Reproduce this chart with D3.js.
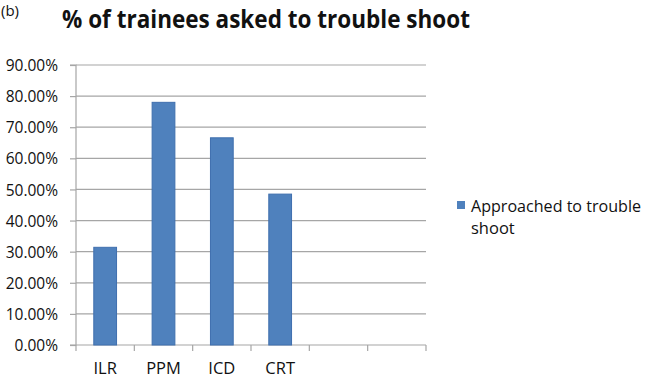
<!DOCTYPE html>
<html>
<style>
    body { margin: 0; background: #fff; }
    text { font-family: "Open Sans", "Noto Sans", sans-serif; fill: #111; }
</style>
<script src="https://d3js.org/d3.v7.min.js"></script>
<body>
<svg width="648" height="379"></svg>
<script>
    const categories = ["ILR", "PPM", "ICD", "CRT", "", " "];
    const values = [0.314, 0.780, 0.666, 0.485, null, null];
    const yTicks = [0, 0.1, 0.2, 0.3, 0.4, 0.5, 0.6, 0.7, 0.8, 0.9];
    const seriesName = "Approached to trouble shoot";

    const svg = d3.select("svg");
    const plotLeft = 76, plotRight = 426, plotTop = 65, plotBottom = 345;

    const x = d3.scaleBand().domain(categories).range([plotLeft, plotRight]).paddingInner(0.61).paddingOuter(0.305);
    const xEdge = d3.scaleBand().domain(categories).range([plotLeft, plotRight]);
    const y = d3.scaleLinear().domain([0, 0.9]).range([plotBottom, plotTop]);

    // gridlines
    svg.append("g")
        .selectAll("line")
        .data(yTicks.slice(1))
        .join("line")
        .attr("x1", plotLeft).attr("x2", plotRight)
        .attr("y1", d => y(d)).attr("y2", d => y(d))
        .attr("stroke", "#a6a6a6").attr("stroke-width", 1.2);

    // y axis
    const yAxis = svg.append("g")
        .attr("transform", `translate(${plotLeft},0)`)
        .call(d3.axisLeft(y).tickValues(yTicks).tickFormat(d3.format(".2%")).tickSize(6).tickPadding(12));
    yAxis.selectAll("line, path").attr("stroke", "#a6a6a6").attr("stroke-width", 1.2);
    yAxis.select(".domain").attr("d", `M-6,${y(0.9)}H0V${plotBottom}H-6`);
    yAxis.selectAll("text").style("font-size", "15.5px").attr("fill", "#111").attr("dy", "0.36em");

    // x axis
    const xAxis = svg.append("g")
        .attr("transform", `translate(0,${plotBottom})`);
    xAxis.append("line")
        .attr("x1", plotLeft).attr("x2", plotRight)
        .attr("stroke", "#a6a6a6").attr("stroke-width", 1.2);
    xAxis.selectAll(".tick")
        .data(categories.map(c => xEdge(c)).concat([plotRight]))
        .join("line")
        .attr("x1", d => d).attr("x2", d => d)
        .attr("y1", 0).attr("y2", 6)
        .attr("stroke", "#a6a6a6").attr("stroke-width", 1.2);
    xAxis.selectAll("text")
        .data(categories)
        .join("text")
        .attr("x", d => xEdge(d) + xEdge.bandwidth() / 2)
        .attr("y", 29)
        .attr("text-anchor", "middle")
        .style("font-size", "16.5px")
        .text(d => d.trim());

    // bars
    svg.append("g")
        .selectAll("rect")
        .data(categories.map((c, i) => ({c, v: values[i]})).filter(d => d.v != null))
        .join("rect")
        .attr("x", d => x(d.c))
        .attr("width", x.bandwidth())
        .attr("y", d => y(d.v))
        .attr("height", d => plotBottom - y(d.v))
        .attr("fill", "#4f81bd")
        .attr("stroke", "#3f6fae")
        .attr("stroke-width", 1);

    // title
    svg.append("text")
        .attr("x", 62).attr("y", 28)
        .attr("textLength", 408)
        .attr("lengthAdjust", "spacingAndGlyphs")
        .style("font-size", "25.5px").style("font-weight", "bold")
        .text("% of trainees asked to trouble shoot");

    svg.append("text")
        .attr("x", 1).attr("y", 16)
        .style("font-size", "15px")
        .text("(b)");

    // legend
    const legend = svg.append("g");
    legend.append("rect")
        .attr("x", 457).attr("y", 201)
        .attr("width", 8).attr("height", 8)
        .attr("fill", "#4f81bd");
    const words = seriesName.split(" ");
    legend.append("text")
        .attr("x", 471).attr("y", 212)
        .attr("textLength", 170)
        .attr("lengthAdjust", "spacingAndGlyphs")
        .style("font-size", "16.5px")
        .text(words.slice(0, 3).join(" "));
    legend.append("text")
        .attr("x", 471).attr("y", 234)
        .style("font-size", "16.5px")
        .text(words.slice(3).join(" "));
</script>
</body>
</html>
